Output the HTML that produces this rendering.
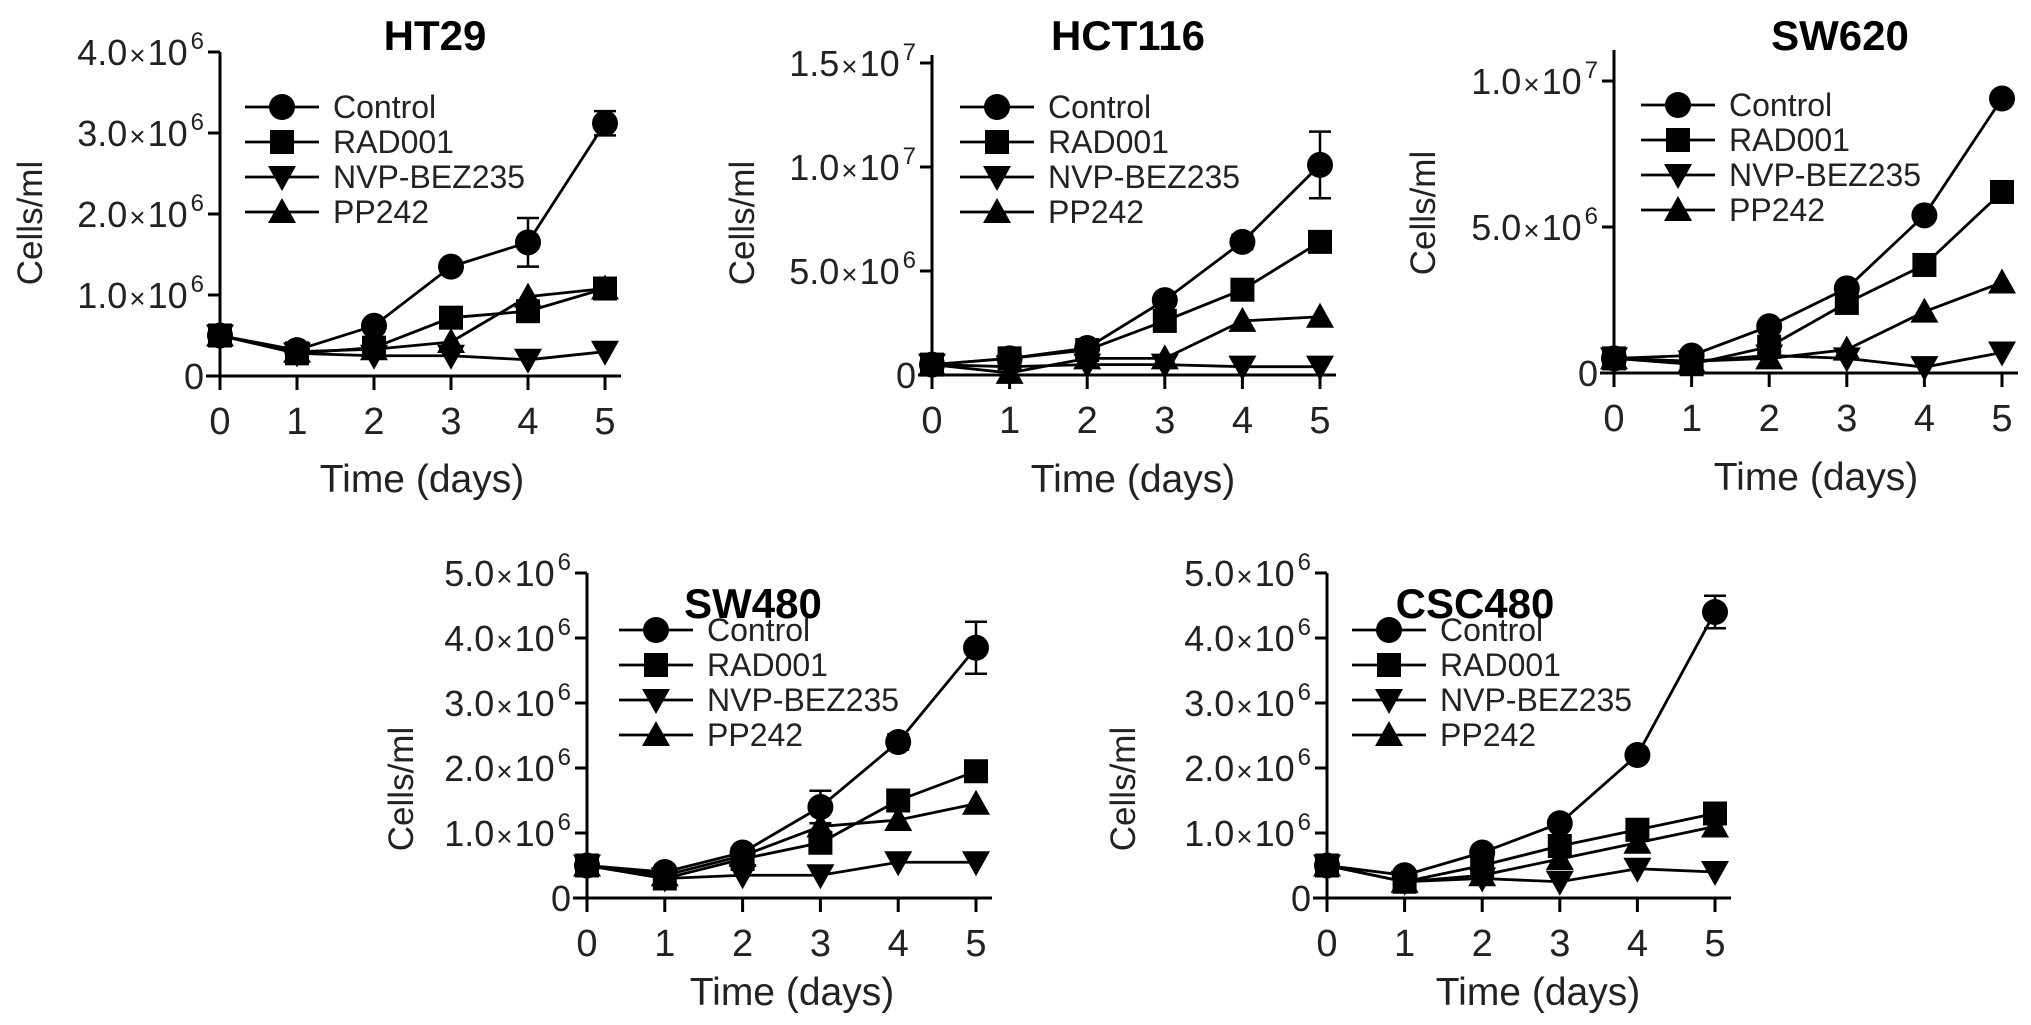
<!DOCTYPE html>
<html><head><meta charset="utf-8"><style>
html,body{margin:0;padding:0;background:#fff;}
svg{display:block;font-family:"Liberation Sans",Arial,sans-serif;}
</style></head><body>
<svg id="fig" width="2031" height="1025" viewBox="0 0 2031 1025"></svg>
<script>
// Data (cells/ml, units of 1e6)
const days = [0, 1, 2, 3, 4, 5];
const seriesNames = ["Control", "RAD001", "NVP-BEZ235", "PP242"];

const ht29Control = [0.5, 0.32, 0.62, 1.35, 1.65, 3.12];
const ht29Rad = [0.5, 0.28, 0.35, 0.72, 0.8, 1.08];
const ht29Nvp = [0.5, 0.28, 0.25, 0.25, 0.2, 0.3];
const ht29Pp = [0.5, 0.3, 0.33, 0.42, 0.98, 1.08];
const ht29ControlErr = [0, 0, 0, 0, 0.3, 0.15];

const hct116Control = [0.5, 0.8, 1.3, 3.6, 6.4, 10.1];
const hct116Rad = [0.5, 0.8, 1.2, 2.6, 4.1, 6.4];
const hct116Nvp = [0.5, 0.4, 0.5, 0.5, 0.4, 0.4];
const hct116Pp = [0.5, 0.1, 0.8, 0.8, 2.6, 2.8];
const hct116ControlErr = [0, 0, 0, 0, 0.35, 1.6];

const sw620Control = [0.5, 0.6, 1.6, 2.9, 5.4, 9.4];
const sw620Rad = [0.5, 0.3, 0.9, 2.4, 3.7, 6.2];
const sw620Nvp = [0.5, 0.4, 0.6, 0.5, 0.2, 0.7];
const sw620Pp = [0.5, 0.4, 0.5, 0.8, 2.1, 3.1];
const sw620ControlErr = [0, 0, 0, 0, 0, 0];

const sw480Control = [0.5, 0.4, 0.7, 1.4, 2.4, 3.85];
const sw480Rad = [0.5, 0.3, 0.6, 0.85, 1.5, 1.95];
const sw480Nvp = [0.5, 0.3, 0.35, 0.35, 0.55, 0.55];
const sw480Pp = [0.5, 0.35, 0.65, 1.1, 1.2, 1.45];
const sw480ControlErr = [0, 0, 0, 0.25, 0.12, 0.4];

const csc480Control = [0.5, 0.35, 0.7, 1.15, 2.2, 4.4];
const csc480Rad = [0.5, 0.25, 0.5, 0.8, 1.05, 1.3];
const csc480Nvp = [0.5, 0.25, 0.3, 0.25, 0.45, 0.4];
const csc480Pp = [0.5, 0.25, 0.35, 0.6, 0.85, 1.1];
const csc480ControlErr = [0, 0, 0, 0, 0, 0.25];

const ht29Ticks = [0, 1, 2, 3, 4];
const ht29TickLabels = ["0", "1.0×10|6", "2.0×10|6", "3.0×10|6", "4.0×10|6"];
const hct116Ticks = [0, 5, 10, 15];
const hct116TickLabels = ["0", "5.0×10|6", "1.0×10|7", "1.5×10|7"];
const sw620Ticks = [0, 5, 10];
const sw620TickLabels = ["0", "5.0×10|6", "1.0×10|7"];
const sw480Ticks = [0, 1, 2, 3, 4, 5];
const sw480TickLabels = ["0", "1.0×10|6", "2.0×10|6", "3.0×10|6", "4.0×10|6", "5.0×10|6"];
const csc480Ticks = [0, 1, 2, 3, 4, 5];
const csc480TickLabels = ["0", "1.0×10|6", "2.0×10|6", "3.0×10|6", "4.0×10|6", "5.0×10|6"];

const NS = "http://www.w3.org/2000/svg";
const svg = document.getElementById("fig");
function mk(tag, attrs, parent) {
  const e = document.createElementNS(NS, tag);
  for (const k in attrs) e.setAttribute(k, attrs[k]);
  (parent || svg).appendChild(e);
  return e;
}
function marker(g, type, cx, cy) {
  let m;
  if (type === 0) m = mk("circle", {cx: cx, cy: cy, r: 13, fill: "#000"}, g);
  else if (type === 1) m = mk("rect", {x: cx - 12, y: cy - 12, width: 24, height: 24, fill: "#000"}, g);
  else if (type === 2) m = mk("polygon", {points: `${cx-14},${cy-11} ${cx+14},${cy-11} ${cx},${cy+14}`, fill: "#000"}, g);
  else m = mk("polygon", {points: `${cx-14},${cy+11} ${cx+14},${cy+11} ${cx},${cy-14}`, fill: "#000"}, g);
  return m;
}

function panel(p) {
  const g = mk("g", {});
  
  
  const xs = d => p.x0 + (p.x5 - p.x0) * d / 5;
  const ys = v => p.y0 - (p.y0 - p.yTop) * v / p.yMax;
  const t = mk("text", {x: p.tx, y: p.ty, "font-size": 42, "font-weight": "bold", "text-anchor": "middle", fill: "#000"}, g);
  t.textContent = p.title;
  
  
  const ya = mk("line", {x1: p.x0, y1: p.axisTop !== undefined ? p.axisTop : ys(p.yMax), x2: p.x0, y2: p.y0 + 14, stroke: "#000", "stroke-width": 3}, g);
  
  
  const xa = mk("line", {x1: p.x0 - 14, y1: p.y0, x2: p.x5 + 16, y2: p.y0, stroke: "#000", "stroke-width": 3}, g);
  
  
  days.forEach(d => {
    mk("line", {x1: xs(d), y1: p.y0, x2: xs(d), y2: p.y0 + 14, stroke: "#000", "stroke-width": 3}, g);
    const tl = mk("text", {x: xs(d), y: p.y0 + 58, "font-size": 38, "text-anchor": "middle", fill: "#222"}, g);
    tl.textContent = String(d);
    
    
  });
  p.ticks.forEach((v, i) => {
    mk("line", {x1: p.x0 - 12, y1: ys(v), x2: p.x0, y2: ys(v), stroke: "#000", "stroke-width": 3}, g);
    const parts = p.tickLabels[i].split("|");
    const tl = mk("text", {x: p.x0 - 16, y: ys(v) + 13, "font-size": 36, "text-anchor": "end", fill: "#222"}, g);
    
    
    if (parts[1]) {
      const parts2 = parts[0].split("×");
      const a = mk("tspan", {}, tl); a.textContent = parts2[0];
      const x = mk("tspan", {"font-size": 28, dx: 2}, tl); x.textContent = "×";
      const b = mk("tspan", {dx: 2}, tl); b.textContent = parts2[1];
      const s = mk("tspan", {dy: -16, "font-size": 24, dx: 3}, tl); s.textContent = parts[1];
    } else {
      const a = mk("tspan", {}, tl); a.textContent = parts[0];
    }
  });
  const xt = mk("text", {x: p.xlx, y: p.xly, "font-size": 39, "text-anchor": "middle", fill: "#222"}, g);
  xt.textContent = "Time (days)";
  
  
  const yt = mk("text", {x: 0, y: 0, "font-size": 35, "text-anchor": "middle", fill: "#222", transform: `translate(${p.ylx},${p.yly}) rotate(-90)`}, g);
  yt.textContent = "Cells/ml";
  
  
  p.err.forEach((e, i) => {
    if (!e) return;
    const v = p.series[0][i];
    const eg = mk("g", {stroke: "#000", "stroke-width": 2.5}, g);
    
    
    mk("line", {x1: xs(days[i]), y1: ys(v + e), x2: xs(days[i]), y2: ys(v - e)}, eg);
    mk("line", {x1: xs(days[i]) - 11, y1: ys(v + e), x2: xs(days[i]) + 11, y2: ys(v + e)}, eg);
    mk("line", {x1: xs(days[i]) - 11, y1: ys(v - e), x2: xs(days[i]) + 11, y2: ys(v - e)}, eg);
  });
  for (let s = 3; s >= 0; s--) {
    const vals = p.series[s];
    const sg = mk("g", {}, g);
    
    
    const pts = vals.map((v, i) => xs(days[i]) + "," + ys(v)).join(" ");
    mk("polyline", {points: pts, fill: "none", stroke: "#000", "stroke-width": 2.8}, sg);
    vals.forEach((v, i) => {
      const m = marker(sg, s, xs(days[i]), ys(v));
      
      
    });
  }
  seriesNames.forEach((n, s) => {
    const ly = p.ly + s * 35;
    const lg = mk("g", {}, g);
    
    
    mk("line", {x1: p.lx, y1: ly, x2: p.lx + 74, y2: ly, stroke: "#000", "stroke-width": 2.8}, lg);
    marker(lg, s, p.lx + 37, ly);
    const lt = mk("text", {x: p.lx + 88, y: ly + 11, "font-size": 32, fill: "#222"}, lg);
    lt.textContent = n;
  });
}

panel({key: "ht29", title: "HT29", tx: 435, ty: 50, x0: 220, x5: 605, y0: 376, yTop: 52, yMax: 4,
  ticks: ht29Ticks, tickLabels: ht29TickLabels, series: [ht29Control, ht29Rad, ht29Nvp, ht29Pp], err: ht29ControlErr,
  xlx: 422, xly: 492, ylx: 42, yly: 223, lx: 245, ly: 107});
panel({key: "hct116", title: "HCT116", tx: 1128, ty: 50, x0: 932, x5: 1320, y0: 375, yTop: 63, yMax: 15, axisTop: 55,
  ticks: hct116Ticks, tickLabels: hct116TickLabels, series: [hct116Control, hct116Rad, hct116Nvp, hct116Pp], err: hct116ControlErr,
  xlx: 1133, xly: 492, ylx: 754, yly: 223, lx: 960, ly: 107});
panel({key: "sw620", title: "SW620", tx: 1840, ty: 50, x0: 1614, x5: 2002, y0: 373, yTop: 81, yMax: 10, axisTop: 50,
  ticks: sw620Ticks, tickLabels: sw620TickLabels, series: [sw620Control, sw620Rad, sw620Nvp, sw620Pp], err: sw620ControlErr,
  xlx: 1816, xly: 490, ylx: 1435, yly: 213, lx: 1641, ly: 105});
panel({key: "sw480", title: "SW480", tx: 753, ty: 618, x0: 587, x5: 976, y0: 898, yTop: 573, yMax: 5,
  ticks: sw480Ticks, tickLabels: sw480TickLabels, series: [sw480Control, sw480Rad, sw480Nvp, sw480Pp], err: sw480ControlErr,
  xlx: 792, xly: 1005, ylx: 413, yly: 789, lx: 619, ly: 630});
panel({key: "csc480", title: "CSC480", tx: 1475, ty: 618, x0: 1327, x5: 1715, y0: 898, yTop: 573, yMax: 5,
  ticks: csc480Ticks, tickLabels: csc480TickLabels, series: [csc480Control, csc480Rad, csc480Nvp, csc480Pp], err: csc480ControlErr,
  xlx: 1538, xly: 1005, ylx: 1135, yly: 789, lx: 1352, ly: 630});
</script>
</body></html>
